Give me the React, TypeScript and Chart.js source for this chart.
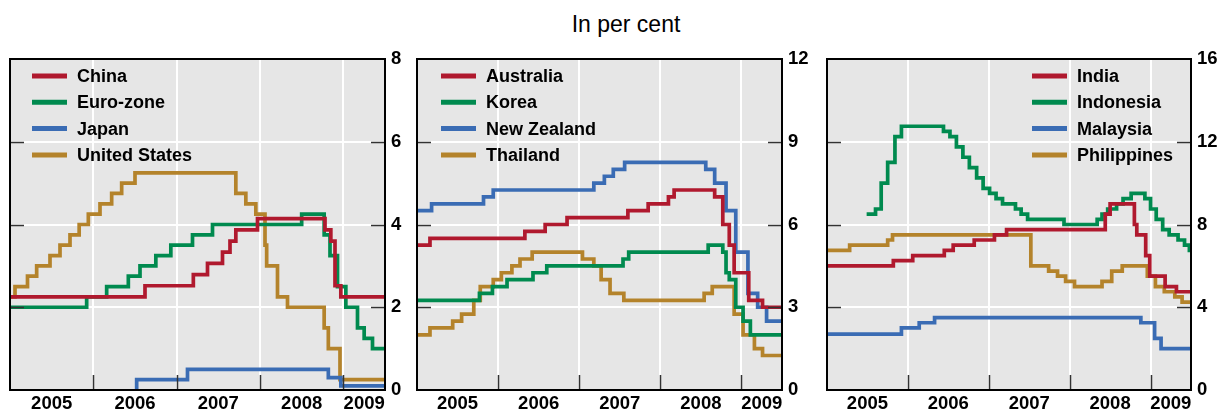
import React, { useEffect, useRef } from 'react';
import { Chart, registerables } from 'chart.js';

Chart.register(...registerables);

// ---------- axis data ----------
const X_MIN = 2005;
const X_MAX = 2009.5;
const yearLabels = ['2005', '2006', '2007', '2008', '2009'];
const yearLabelPos = [2005.5, 2006.5, 2007.5, 2008.5, 2009.25];
const yearBounds = [2005, 2006, 2007, 2008, 2009, 2009.5];

// ---------- colours ----------
const RED = '#b0192e';
const GREEN = '#008a4f';
const BLUE = '#3a6cb4';
const GOLD = '#b4832b';

// ---------- panel 1 ----------
const chinaT = [2005.0, 2006.62, 2007.2, 2007.37, 2007.55, 2007.64, 2007.71, 2007.97, 2008.78, 2008.85, 2008.9, 2008.97, 2009.5];
const chinaV = [2.25, 2.52, 2.79, 3.06, 3.33, 3.6, 3.87, 4.14, 3.87, 3.6, 2.52, 2.25, 2.25];
const euroT = [2005.0, 2005.92, 2006.16, 2006.42, 2006.56, 2006.75, 2006.93, 2007.19, 2007.43, 2008.5, 2008.77, 2008.84, 2008.93, 2009.03, 2009.17, 2009.25, 2009.35, 2009.5];
const euroV = [2.0, 2.25, 2.5, 2.75, 3.0, 3.25, 3.5, 3.75, 4.0, 4.25, 3.75, 3.25, 2.5, 2.0, 1.5, 1.25, 1.0, 1.0];
const japanT = [2006.52, 2006.52, 2007.13, 2008.82, 2008.97, 2009.5];
const japanV = [0, 0.25, 0.5, 0.3, 0.1, 0.1];
const usT = [2005.0, 2005.06, 2005.21, 2005.32, 2005.48, 2005.6, 2005.72, 2005.83, 2005.94, 2006.08, 2006.22, 2006.34, 2006.5, 2007.71, 2007.83, 2007.95, 2008.06, 2008.08, 2008.21, 2008.33, 2008.77, 2008.82, 2008.96, 2009.5];
const usV = [2.25, 2.5, 2.75, 3.0, 3.25, 3.5, 3.75, 4.0, 4.25, 4.5, 4.75, 5.0, 5.25, 4.75, 4.5, 4.25, 3.5, 3.0, 2.25, 2.0, 1.5, 1.0, 0.25, 0.25];

// ---------- panel 2 ----------
const ausT = [2005.0, 2005.16, 2006.33, 2006.58, 2006.85, 2007.6, 2007.85, 2008.1, 2008.17, 2008.67, 2008.77, 2008.85, 2008.91, 2009.09, 2009.26, 2009.5];
const ausV = [5.25, 5.5, 5.75, 6.0, 6.25, 6.5, 6.75, 7.0, 7.25, 7.0, 6.0, 5.25, 4.25, 3.25, 3.0, 3.0];
const korT = [2005.0, 2005.77, 2005.93, 2006.11, 2006.43, 2006.6, 2007.54, 2007.61, 2008.59, 2008.77, 2008.81, 2008.85, 2008.93, 2009.02, 2009.11, 2009.5];
const korV = [3.25, 3.5, 3.75, 4.0, 4.25, 4.5, 4.75, 5.0, 5.25, 5.0, 4.25, 4.0, 3.0, 2.5, 2.0, 2.0];
const nzT = [2005.0, 2005.18, 2005.82, 2005.94, 2007.18, 2007.31, 2007.42, 2007.56, 2008.56, 2008.67, 2008.81, 2008.93, 2009.08, 2009.2, 2009.31, 2009.5];
const nzV = [6.5, 6.75, 7.0, 7.25, 7.5, 7.75, 8.0, 8.25, 8.0, 7.5, 6.5, 5.0, 3.5, 3.0, 2.5, 2.5];
const thaiT = [2005.0, 2005.16, 2005.44, 2005.55, 2005.7, 2005.78, 2005.94, 2006.04, 2006.17, 2006.27, 2006.42, 2007.04, 2007.18, 2007.27, 2007.38, 2007.55, 2008.54, 2008.64, 2008.91, 2009.02, 2009.16, 2009.26, 2009.5];
const thaiV = [2.0, 2.25, 2.5, 2.75, 3.25, 3.75, 4.0, 4.25, 4.5, 4.75, 5.0, 4.75, 4.5, 4.0, 3.5, 3.25, 3.5, 3.75, 2.75, 2.0, 1.5, 1.25, 1.25];

// ---------- panel 3 ----------
const indiaT = [2005.0, 2005.82, 2006.06, 2006.45, 2006.56, 2006.82, 2007.07, 2007.22, 2008.44, 2008.5, 2008.8, 2008.83, 2008.94, 2008.99, 2009.18, 2009.32, 2009.5];
const indiaV = [6.0, 6.25, 6.5, 6.75, 7.0, 7.25, 7.5, 7.75, 8.5, 9.0, 8.0, 7.5, 6.5, 5.5, 5.0, 4.75, 4.75];
const indoT = [2005.49, 2005.6, 2005.67, 2005.75, 2005.84, 2005.92, 2006.44, 2006.52, 2006.6, 2006.68, 2006.76, 2006.85, 2006.93, 2007.01, 2007.09, 2007.17, 2007.33, 2007.4, 2007.48, 2007.93, 2008.34, 2008.4, 2008.47, 2008.58, 2008.66, 2008.76, 2008.93, 2009.0, 2009.07, 2009.15, 2009.23, 2009.34, 2009.42, 2009.48, 2009.5];
const indoV = [8.5, 8.75, 10.0, 11.0, 12.25, 12.75, 12.5, 12.25, 11.75, 11.25, 10.75, 10.25, 9.75, 9.5, 9.25, 9.0, 8.75, 8.5, 8.25, 8.0, 8.25, 8.5, 8.75, 9.0, 9.25, 9.5, 9.25, 8.75, 8.25, 7.75, 7.5, 7.25, 7.0, 6.75, 6.75];
const malT = [2005.0, 2005.92, 2006.14, 2006.33, 2008.88, 2009.05, 2009.13, 2009.5];
const malV = [2.7, 3.0, 3.25, 3.5, 3.25, 2.5, 2.0, 2.0];
const phiT = [2005.0, 2005.28, 2005.75, 2005.81, 2007.52, 2007.74, 2007.85, 2007.95, 2008.06, 2008.4, 2008.52, 2008.65, 2008.96, 2009.06, 2009.17, 2009.3, 2009.39, 2009.5];
const phiV = [6.75, 7.0, 7.25, 7.5, 6.0, 5.75, 5.5, 5.25, 5.0, 5.25, 5.75, 6.0, 5.5, 5.0, 4.75, 4.5, 4.25, 4.25];

const FONT_FAMILY = '"Liberation Sans", Arial, Helvetica, sans-serif';

type Series = { label: string; t: number[]; v: number[]; color: string };

type PanelProps = {
  left: number;
  width: number;
  padLeft: number;
  yAxisWidth: number;
  yMax: number;
  yStep: number;
  legendOffset: number;
  series: Series[];
};

function Panel(p: PanelProps) {
  const ref = useRef<HTMLCanvasElement>(null);
  useEffect(() => {
    if (!ref.current) return;

    const bgPlugin = {
      id: 'bg',
      beforeDraw(chart: any) {
        const { ctx, chartArea: a } = chart;
        ctx.save();
        ctx.fillStyle = '#e6e6e6';
        ctx.fillRect(a.left, a.top, a.right - a.left, a.bottom - a.top);
        ctx.restore();
      },
    };

    const overlayPlugin = {
      id: 'overlay',
      afterDatasetsDraw(chart: any) {
        const { ctx, chartArea: a } = chart;
        const ys = chart.scales.y;
        const xs = chart.scales.x;
        ctx.save();
        ctx.strokeStyle = '#333';
        ctx.lineWidth = 1.5;
        ctx.beginPath();
        for (let v = p.yStep; v < p.yMax; v += p.yStep) {
          const y = Math.round(ys.getPixelForValue(v)) + 0.5;
          ctx.moveTo(a.left, y);
          ctx.lineTo(a.left + 14, y);
          ctx.moveTo(a.right - 14, y);
          ctx.lineTo(a.right, y);
        }
        yearBounds.forEach((b) => {
          if (b <= X_MIN || b >= X_MAX) return;
          const x = Math.round(xs.getPixelForValue(b)) + 0.5;
          ctx.moveTo(x, a.bottom);
          ctx.lineTo(x, a.bottom - 15);
        });
        ctx.stroke();
        // frame
        ctx.strokeStyle = '#000';
        ctx.lineWidth = 2;
        ctx.strokeRect(a.left, a.top, a.right - a.left, a.bottom - a.top);
        // legend
        ctx.font = 'bold 18px ' + FONT_FAMILY;
        ctx.textBaseline = 'middle';
        ctx.textAlign = 'left';
        chart.data.datasets.forEach((ds: any, i: number) => {
          const y = a.top + 17 + i * 26.3;
          const x = a.left + p.legendOffset;
          ctx.strokeStyle = ds.borderColor;
          ctx.lineWidth = 5;
          ctx.beginPath();
          ctx.moveTo(x, y);
          ctx.lineTo(x + 35, y);
          ctx.stroke();
          ctx.fillStyle = '#000';
          ctx.fillText(ds.label, x + 45, y + 1);
        });
        ctx.restore();
      },
    };

    const chart = new Chart(ref.current, {
      type: 'line',
      data: {
        datasets: p.series.map((s) => ({
          label: s.label,
          data: s.t.map((t, i) => ({ x: t, y: s.v[i] })),
          borderColor: s.color,
          backgroundColor: s.color,
          borderWidth: 3.7,
          pointRadius: 0,
          stepped: true,
          fill: false,
        })),
      },
      options: {
        animation: false,
        responsive: false,
        devicePixelRatio: 1,
        layout: { padding: { left: p.padLeft, top: 19, right: 0, bottom: 0 } },
        plugins: { legend: { display: false }, tooltip: { enabled: false }, title: { display: false } },
        scales: {
          x: {
            type: 'linear',
            min: X_MIN,
            max: X_MAX,
            position: 'bottom',
            border: { display: false },
            grid: {
              drawTicks: false,
              lineWidth: 2,
              color: (ctx: any) => {
                const v = ctx.tick ? ctx.tick.value : null;
                return v !== null && yearBounds.includes(v) && v > X_MIN && v < X_MAX ? '#ffffff' : 'rgba(0,0,0,0)';
              },
            },
            afterBuildTicks: (scale: any) => {
              const vals = [...yearBounds, ...yearLabelPos].sort((a, b) => a - b);
              scale.ticks = vals.map((v) => ({ value: v }));
            },
            afterFit: (scale: any) => {
              scale.height = 26;
            },
            ticks: {
              autoSkip: false,
              maxRotation: 0,
              minRotation: 0,
              padding: 3,
              color: '#000',
              font: { family: FONT_FAMILY, size: 18.5, weight: 'bold' },
              callback: (value: any) => {
                const idx = yearLabelPos.indexOf(Number(value));
                return idx >= 0 ? yearLabels[idx] : '';
              },
            },
          },
          y: {
            type: 'linear',
            position: 'right',
            min: 0,
            max: p.yMax,
            border: { display: false },
            grid: { drawTicks: false, lineWidth: 2, color: '#ffffff' },
            afterFit: (scale: any) => {
              scale.width = p.yAxisWidth;
            },
            ticks: {
              stepSize: p.yStep,
              padding: 6,
              color: '#000',
              font: { family: FONT_FAMILY, size: 18.5, weight: 'bold' },
            },
          },
        },
      } as any,
      plugins: [bgPlugin, overlayPlugin],
    });
    return () => chart.destroy();
  }, []);

  return (
    <canvas
      ref={ref}
      width={p.width}
      height={376}
      style={{ position: 'absolute', left: p.left, top: 40, width: p.width, height: 376 }}
    />
  );
}

const panel1: Series[] = [
  { label: 'China', t: chinaT, v: chinaV, color: RED },
  { label: 'Euro-zone', t: euroT, v: euroV, color: GREEN },
  { label: 'Japan', t: japanT, v: japanV, color: BLUE },
  { label: 'United States', t: usT, v: usV, color: GOLD },
];
const panel2: Series[] = [
  { label: 'Australia', t: ausT, v: ausV, color: RED },
  { label: 'Korea', t: korT, v: korV, color: GREEN },
  { label: 'New Zealand', t: nzT, v: nzV, color: BLUE },
  { label: 'Thailand', t: thaiT, v: thaiV, color: GOLD },
];
const panel3: Series[] = [
  { label: 'India', t: indiaT, v: indiaV, color: RED },
  { label: 'Indonesia', t: indoT, v: indoV, color: GREEN },
  { label: 'Malaysia', t: malT, v: malV, color: BLUE },
  { label: 'Philippines', t: phiT, v: phiV, color: GOLD },
];

export default function App() {
  return (
    <div style={{ position: 'absolute', left: 0, top: 0, width: 1219, height: 416, background: '#fff', overflow: 'hidden' }}>
      <div
        style={{
          position: 'absolute',
          left: 626,
          top: 13,
          transform: 'translateX(-50%)',
          fontFamily: FONT_FAMILY,
          fontSize: 23,
          lineHeight: '23px',
          whiteSpace: 'nowrap',
          color: '#000',
        }}
      >
        In per cent
      </div>
      <Panel left={0} width={410} padLeft={10} yAxisWidth={25} yMax={8} yStep={2} legendOffset={22} series={panel1} />
      <Panel left={410} width={405} padLeft={7} yAxisWidth={33} yMax={12} yStep={3} legendOffset={24} series={panel2} />
      <Panel left={815} width={404} padLeft={12} yAxisWidth={28} yMax={16} yStep={4} legendOffset={205} series={panel3} />
    </div>
  );
}
